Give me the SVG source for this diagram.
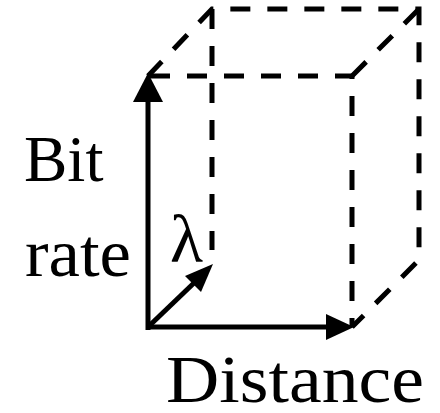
<svg xmlns="http://www.w3.org/2000/svg" width="440" height="413" viewBox="0 0 440 413">
<rect width="440" height="413" fill="#fff"/>
<g id="connectors" stroke="#000" stroke-width="5" fill="none">
<g stroke-dasharray="20 17">
<path d="M150 76 H352 V327"/>
<path d="M148 76 L212 9 H419 V260 L352 327"/>
<path d="M212 9 V250"/>
<path d="M352 76 L419 9"/>
</g>
<line x1="148" y1="330" x2="148" y2="98"/>
<line x1="146" y1="327" x2="330" y2="327"/>
<line x1="148" y1="327" x2="195" y2="282"/>
<g fill="#000" stroke="none">
<polygon points="148,73 133,102 163,102"/>
<polygon points="354,327 326,314 326,340"/>
<polygon points="213,264 185,276 201,292"/>
</g>
</g>
<g id="label-bitrate" font-family="Liberation Serif, serif" fill="#000">
<text x="24" y="181" font-size="65">Bit</text>
<text x="25" y="276" font-size="68" textLength="106" lengthAdjust="spacingAndGlyphs">rate</text>
</g>
<g id="label-lambda" font-family="Liberation Serif, serif" fill="#000"><text x="170" y="262" font-size="68">λ</text></g>
<g id="label-distance" font-family="Liberation Serif, serif" fill="#000"><text x="166" y="402" font-size="68" textLength="258" lengthAdjust="spacingAndGlyphs">Distance</text></g>
</svg>
